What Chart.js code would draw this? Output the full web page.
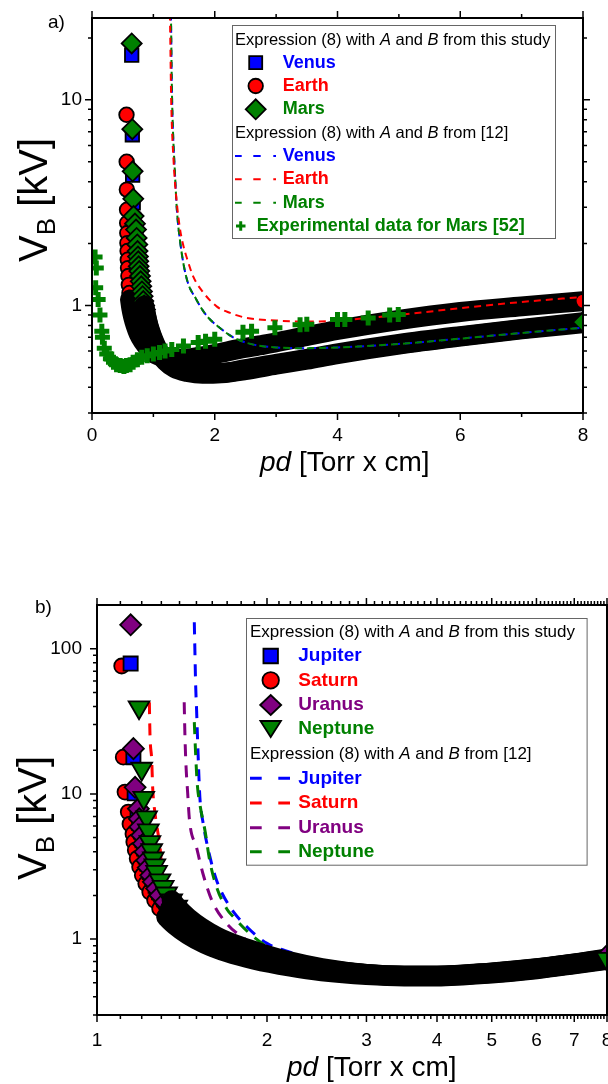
<!DOCTYPE html>
<html>
<head>
<meta charset="utf-8">
<script src="https://cdn.jsdelivr.net/npm/chart.js"></script>
<style>
  html, body { margin: 0; padding: 0; background: #fff; overflow: hidden; }
  .panel { position: absolute; left: 0; width: 608px; }
  #panelA { top: 0; height: 500px; }
  #panelB { top: 560px; height: 524px; }
</style>
</head>
<body>
<div class="panel" id="panelA"><canvas id="chartA" width="608" height="500"></canvas></div>
<div class="panel" id="panelB"><canvas id="chartB" width="608" height="524"></canvas></div>
<script>
// ---------- panel a) : Venus, Earth, Mars ----------
// markers, expression (8) with A and B from this study (sparse top part)
const venusMarkPd = [0.647, 0.657, 0.662, 0.672, 0.678, 0.70, 0.717, 0.727, 0.738];
const venusMarkV  = [16.5, 6.76, 4.3, 3.15, 2.62, 2.38, 2.22, 2.03, 1.89];
const earthMarkPd = [0.562, 0.565, 0.568, 0.571, 0.573, 0.575, 0.577, 0.58, 0.583, 0.587, 0.593, 0.6, 0.61, 0.62, 0.635];
const earthMarkV  = [8.46, 5.0, 3.66, 2.92, 2.52, 2.25, 2.01, 1.84, 1.67, 1.52, 1.39, 1.26, 1.15, 1.07, 0.99];
const marsMarkPd  = [0.647, 0.657, 0.662, 0.672, 0.678, 0.70, 0.717, 0.727, 0.738, 0.742, 0.749, 0.754, 0.76, 0.77, 0.782, 0.793, 0.803, 0.814, 0.825, 0.836, 0.85, 0.863];
const marsMarkV   = [18.8, 7.2, 4.49, 3.3, 2.72, 2.5, 2.34, 2.13, 1.98, 1.84, 1.73, 1.64, 1.55, 1.47, 1.39, 1.31, 1.24, 1.17, 1.11, 1.05, 1.0, 0.957];
// last marker of each series, at pd = 8
const venusEndPd = [8], venusEndV = [0.82];
const earthEndPd = [8], earthEndV = [1.05];
const marsEndPd  = [8], marsEndV  = [0.83];

// dense part of the same markers (solid black band)
const earthBandPd = [0.62, 0.64, 0.67, 0.71, 0.76, 0.83, 0.92, 1.03, 1.2, 1.4, 1.7, 2.0, 2.4, 2.8, 3.4, 4, 5, 6, 7, 8];
const earthBandV  = [1.07, 0.97, 0.88, 0.8, 0.73, 0.67, 0.62, 0.58, 0.56, 0.55, 0.56, 0.58, 0.615, 0.645, 0.7, 0.76, 0.85, 0.93, 0.99, 1.05];
const marsBandPd  = [0.85, 0.88, 0.92, 0.97, 1.03, 1.1, 1.2, 1.35, 1.55, 1.8, 2.1, 2.5, 3, 3.5, 4, 5, 6, 7, 8];
const marsBandV   = [1.0, 0.9, 0.8, 0.72, 0.65, 0.59, 0.54, 0.5, 0.48, 0.47, 0.47, 0.49, 0.52, 0.55, 0.585, 0.65, 0.71, 0.77, 0.83];
const venusBandPd = [0.85, 0.88, 0.92, 0.97, 1.03, 1.1, 1.2, 1.35, 1.55, 1.8, 2.1, 2.5, 3, 3.5, 4, 5, 6, 7, 8];
const venusBandV  = [0.99, 0.89, 0.79, 0.71, 0.64, 0.585, 0.535, 0.495, 0.475, 0.465, 0.468, 0.485, 0.515, 0.545, 0.58, 0.645, 0.705, 0.765, 0.82];

// expression (8) with A and B from [12]
const venusDashPd = [1.28, 1.287, 1.3, 1.32, 1.35, 1.38, 1.44, 1.54, 1.7, 1.87, 2.08, 2.3, 2.63, 3.0, 3.5, 4, 5, 6, 7, 8];
const venusDashV  = [30, 25, 12, 7, 4.5, 3.0, 2.0, 1.36, 1.07, 0.89, 0.78, 0.7, 0.645, 0.625, 0.62, 0.625, 0.65, 0.69, 0.735, 0.78];
const earthDashPd = [1.26, 1.27, 1.29, 1.33, 1.38, 1.43, 1.48, 1.56, 1.65, 1.8, 2.03, 2.25, 2.52, 3, 3.5, 4, 5, 6, 7, 8];
const earthDashV  = [30, 25, 10, 5, 3.2, 2.4, 2.0, 1.65, 1.38, 1.17, 0.99, 0.92, 0.87, 0.845, 0.835, 0.845, 0.9, 0.97, 1.04, 1.1];
const marsDashPd  = [1.28, 1.287, 1.3, 1.32, 1.35, 1.38, 1.44, 1.54, 1.7, 1.87, 2.08, 2.3, 2.63, 3.0, 3.5, 4, 5, 6, 7, 8];
const marsDashV   = [30, 25, 12, 7, 4.5, 3.0, 2.0, 1.36, 1.07, 0.89, 0.78, 0.7, 0.645, 0.625, 0.62, 0.625, 0.65, 0.69, 0.735, 0.78];

// experimental data for Mars [52]
const marsExpPd = [0.05, 0.07, 0.06, 0.1, 0.13, 0.16, 0.17, 0.2, 0.24, 0.3, 0.35, 0.4, 0.46, 0.52, 0.56, 0.62, 0.67, 0.74, 0.81, 0.9, 1.0, 1.1, 1.19, 1.3, 1.49, 1.73, 1.85, 2.0, 2.46, 2.6, 2.98, 3.39, 3.5, 4.0, 4.12, 4.5, 4.85, 4.99];
const marsExpV  = [1.72, 1.52, 1.22, 1.07, 0.9, 0.75, 0.7, 0.62, 0.58, 0.55, 0.53, 0.515, 0.51, 0.505, 0.51, 0.515, 0.53, 0.545, 0.56, 0.57, 0.58, 0.59, 0.6, 0.61, 0.635, 0.66, 0.67, 0.685, 0.74, 0.75, 0.78, 0.805, 0.81, 0.855, 0.855, 0.87, 0.9, 0.905];

const xLabelsA = [0, 2, 4, 6, 8];
const xMinorA  = [1, 3, 5, 7];
const yLabelsA = [1, 10];
const yMinorA  = [0.3, 0.4, 0.5, 0.6, 0.7, 0.8, 0.9, 2, 3, 4, 5, 6, 7, 8, 9, 20];

// ---------- panel b) : Jupiter, Saturn, Uranus, Neptune ----------
const jupMarkPd = [1.147, 1.16, 1.166, 1.18, 1.188, 1.196, 1.204, 1.212, 1.22, 1.228, 1.24, 1.253, 1.27, 1.288, 1.315];
const jupMarkV  = [79, 17.9, 10.1, 7.4, 6.3, 5.5, 4.8, 4.2, 3.7, 3.3, 2.9, 2.6, 2.33, 2.1, 1.88];
const satMarkPd = [1.106, 1.113, 1.121, 1.136, 1.144, 1.158, 1.162, 1.169, 1.178, 1.19, 1.203, 1.22, 1.24, 1.265, 1.291, 1.326, 1.373];
const satMarkV  = [76, 17.9, 10.3, 7.5, 6.2, 5.3, 4.67, 4.09, 3.59, 3.14, 2.75, 2.41, 2.11, 1.85, 1.62, 1.42, 1.25];
const uraMarkPd = [1.147, 1.16, 1.168, 1.184, 1.188, 1.191, 1.2, 1.208, 1.216, 1.224, 1.232, 1.245, 1.258, 1.275, 1.293, 1.32, 1.347, 1.374];
const uraMarkV  = [146, 20.5, 11.1, 7.9, 6.74, 5.92, 5.19, 4.54, 3.98, 3.49, 3.11, 2.75, 2.48, 2.23, 2.0, 1.8, 1.62, 1.46];
const nepMarkPd = [1.187, 1.2, 1.21, 1.224, 1.233, 1.241, 1.25, 1.258, 1.266, 1.275, 1.293, 1.31, 1.328, 1.356, 1.384];
const nepMarkV  = [39.5, 14.9, 9.4, 6.9, 5.6, 4.66, 4.09, 3.59, 3.22, 2.9, 2.54, 2.29, 2.06, 1.85, 1.67];
const uraEndPd = [8], uraEndV = [0.77];
const nepEndPd = [8], nepEndV = [0.73];

const jupBandPd = [1.288, 1.34, 1.41, 1.49, 1.59, 1.74, 1.94, 2.2, 2.5, 3, 3.5, 4, 5, 6, 7, 8];
const jupBandV  = [2.1, 1.68, 1.38, 1.17, 1.01, 0.88, 0.775, 0.68, 0.62, 0.572, 0.558, 0.558, 0.587, 0.627, 0.677, 0.728];
const satBandPd = [1.326, 1.373, 1.45, 1.55, 1.7, 1.9, 2.2, 2.5, 3, 3.5, 4, 5, 6, 7, 8];
const satBandV  = [1.42, 1.25, 1.07, 0.93, 0.81, 0.72, 0.645, 0.6, 0.565, 0.553, 0.553, 0.58, 0.62, 0.67, 0.72];
const uraBandPd = [1.347, 1.374, 1.42, 1.5, 1.6, 1.75, 1.95, 2.2, 2.5, 3, 3.5, 4, 5, 6, 7, 8];
const uraBandV  = [1.62, 1.46, 1.32, 1.15, 1.0, 0.87, 0.77, 0.68, 0.62, 0.575, 0.56, 0.56, 0.59, 0.63, 0.68, 0.735];
const nepBandPd = [1.356, 1.384, 1.45, 1.53, 1.63, 1.78, 1.97, 2.2, 2.5, 3, 3.5, 4, 5, 6, 7, 8];
const nepBandV  = [1.85, 1.67, 1.4, 1.2, 1.04, 0.9, 0.79, 0.7, 0.63, 0.575, 0.56, 0.56, 0.585, 0.625, 0.675, 0.725];

const jupDashPd = [1.487, 1.491, 1.495, 1.501, 1.507, 1.513, 1.521, 1.542, 1.585, 1.628, 1.719, 1.84, 2.0, 2.227, 2.515, 2.6];
const jupDashV  = [152, 92, 57, 37.5, 23.4, 15.3, 9.5, 6.24, 3.68, 2.54, 1.67, 1.22, 0.934, 0.798, 0.68, 0.66];
const satDashPd = [1.238, 1.241, 1.25, 1.255, 1.266, 1.284, 1.293, 1.3, 1.31, 1.33, 1.37, 1.45, 1.6, 1.8, 2.1, 2.5, 3];
const satDashV  = [42.8, 25.9, 17, 10.9, 7.5, 5.19, 4.3, 3.3, 2.6, 2.0, 1.55, 1.15, 0.9, 0.75, 0.66, 0.6, 0.565];
const uraDashPd = [1.427, 1.431, 1.437, 1.447, 1.458, 1.5, 1.54, 1.597, 1.697, 1.84, 2.02, 2.1, 2.3];
const uraDashV  = [42.8, 25.9, 16.1, 10.3, 6.6, 4.3, 2.83, 1.85, 1.28, 0.985, 0.8, 0.755, 0.68];
const nepDashPd = [1.487, 1.495, 1.505, 1.521, 1.553, 1.585, 1.628, 1.7, 1.745, 1.878, 2.08, 2.288, 2.45];
const nepDashV  = [31.2, 18.9, 11.7, 8.5, 5.6, 3.4, 2.29, 1.6, 1.42, 1.065, 0.81, 0.71, 0.66];

const xLabelsB = [1, 2, 3, 4, 5, 6, 7, 8];
const yLabelsB = [1, 10, 100];
const yMinorB  = [0.3, 0.4, 0.5, 0.6, 0.7, 0.8, 0.9, 2, 3, 4, 5, 6, 7, 8, 9, 20, 30, 40, 50, 60, 70, 80, 90];
const xMinorB = [];
for (let d = 1; d < 8; d++) for (let k = 1; k < 10; k++) xMinorB.push(d + k / 10);

// ---------- helpers ----------
const FONT = '"Liberation Sans", Arial, Helvetica, sans-serif';
const BLUE = '#0000ff', RED = '#ff0000', GREEN = '#008000', PURPLE = '#800080';
Chart.defaults.font.family = FONT;
Chart.defaults.color = '#000';

function pts(xs, ys) { return xs.map((x, i) => ({ x: x, y: ys[i] })); }

// lower "order" is drawn on top
function markers(xs, ys, style, fill, radius, order, rotation) {
  return {
    data: pts(xs, ys), showLine: false, pointStyle: style, pointRadius: radius,
    pointRotation: rotation || 0, pointBackgroundColor: fill, pointBorderColor: '#000',
    pointBorderWidth: 1.8, order: order, clip: 0
  };
}
function band(xs, ys, order) {
  return {
    data: pts(xs, ys), showLine: true, pointRadius: 0, borderColor: '#000', borderWidth: 20,
    borderCapStyle: 'round', borderJoinStyle: 'round', cubicInterpolationMode: 'monotone',
    order: order, clip: 0
  };
}
function dashed(xs, ys, color, width, dash, offset, order) {
  return {
    data: pts(xs, ys), showLine: true, pointRadius: 0, borderColor: color, borderWidth: width,
    borderDash: dash, borderDashOffset: offset, cubicInterpolationMode: 'monotone',
    order: order, clip: 0
  };
}

function drawFrame(chart, xMajor, xMinor, yMajor, yMinor) {
  const { ctx, chartArea: a, scales } = chart;
  const sx = scales.x, sy = scales.y;
  ctx.save();
  ctx.strokeStyle = '#000';
  ctx.lineWidth = 1.5;
  ctx.beginPath();
  const xt = (v, len) => {
    const p = sx.getPixelForValue(v);
    ctx.moveTo(p, a.bottom); ctx.lineTo(p, a.bottom + len);
    ctx.moveTo(p, a.top); ctx.lineTo(p, a.top - len);
  };
  const yt = (v, len) => {
    const p = sy.getPixelForValue(v);
    ctx.moveTo(a.left, p); ctx.lineTo(a.left - len, p);
    ctx.moveTo(a.right, p); ctx.lineTo(a.right + len, p);
  };
  xMajor.forEach(v => xt(v, 7));
  xMinor.forEach(v => xt(v, 4));
  yMajor.forEach(v => yt(v, 7));
  yMinor.forEach(v => yt(v, 4));
  ctx.stroke();
  ctx.lineWidth = 2;
  ctx.strokeRect(a.left, a.top, a.right - a.left, a.bottom - a.top);
  ctx.restore();
}

function richText(ctx, x, y, parts) {
  ctx.save();
  ctx.textBaseline = 'middle';
  ctx.textAlign = 'left';
  for (const [t, f, c] of parts) {
    ctx.font = f;
    ctx.fillStyle = c || '#000';
    ctx.fillText(t, x, y);
    x += ctx.measureText(t).width;
  }
  ctx.restore();
  return x;
}

function legendMarker(ctx, shape, x, y, w, h, fill) {
  ctx.save();
  ctx.fillStyle = fill; ctx.strokeStyle = '#000'; ctx.lineWidth = 1.8;
  ctx.beginPath();
  if (shape === 'square') ctx.rect(x - w / 2, y - h / 2, w, h);
  else if (shape === 'circle') ctx.arc(x, y, w / 2, 0, Math.PI * 2);
  else if (shape === 'diamond') {
    ctx.moveTo(x - w / 2, y); ctx.lineTo(x, y - h / 2); ctx.lineTo(x + w / 2, y); ctx.lineTo(x, y + h / 2); ctx.closePath();
  } else if (shape === 'tri') {
    ctx.moveTo(x - w / 2, y - h / 2); ctx.lineTo(x + w / 2, y - h / 2); ctx.lineTo(x, y + h / 2); ctx.closePath();
  }
  ctx.fill(); ctx.stroke();
  ctx.restore();
}

function legendDash(ctx, segs, y, color, width) {
  ctx.save();
  ctx.strokeStyle = color; ctx.lineWidth = width;
  ctx.beginPath();
  segs.forEach(([x1, x2]) => { ctx.moveTo(x1, y); ctx.lineTo(x2, y); });
  ctx.stroke();
  ctx.restore();
}

function heading(ctx, x, y, size, tail) {
  const n = size + 'px ' + FONT, it = 'italic ' + size + 'px ' + FONT;
  richText(ctx, x, y, [['Expression (8) with ', n], ['A', it], [' and ', n], ['B', it], [tail, n]]);
}

function xTitle(ctx, x, y, size) {
  ctx.save();
  ctx.textBaseline = 'alphabetic';
  ctx.fillStyle = '#000';
  ctx.font = 'italic ' + size + 'px ' + FONT;
  ctx.fillText('pd', x, y);
  const w = ctx.measureText('pd').width;
  ctx.font = size + 'px ' + FONT;
  ctx.fillText(' [Torr x cm]', x + w, y);
  ctx.restore();
}

function yTitle(ctx, x, y, size) {
  ctx.save();
  ctx.translate(x, y);
  ctx.rotate(-Math.PI / 2);
  ctx.textBaseline = 'alphabetic';
  ctx.fillStyle = '#000';
  ctx.font = size + 'px ' + FONT;
  ctx.fillText('V', 0, 0);
  let w = ctx.measureText('V').width;
  ctx.font = Math.round(size * 0.65) + 'px ' + FONT;
  ctx.fillText('B', w, size * 0.2);
  w += ctx.measureText('B').width;
  ctx.font = size + 'px ' + FONT;
  ctx.fillText(' [kV]', w, 0);
  ctx.restore();
}

function panelLabel(ctx, text, x, y) {
  ctx.save();
  ctx.font = '19px ' + FONT;
  ctx.fillStyle = '#000';
  ctx.textBaseline = 'alphabetic';
  ctx.fillText(text, x, y);
  ctx.restore();
}

// ---------- chart a) ----------
const overlayA = {
  id: 'overlayA',
  afterDraw(chart) {
    const ctx = chart.ctx;
    drawFrame(chart, xLabelsA, xMinorA, yLabelsA, yMinorA);
    // legend
    ctx.save();
    ctx.fillStyle = '#fff';
    ctx.fillRect(232, 25, 323, 213);
    ctx.strokeStyle = '#666'; ctx.lineWidth = 1;
    ctx.strokeRect(232.5, 25.5, 323, 213);
    ctx.restore();
    const bold = 'bold 18px ' + FONT;
    heading(ctx, 235, 40, 16.5, ' from this study');
    legendMarker(ctx, 'square', 255.7, 62.7, 13, 13, BLUE);
    richText(ctx, 282.7, 62.7, [['Venus', bold, BLUE]]);
    legendMarker(ctx, 'circle', 255.7, 86, 14.5, 14.5, RED);
    richText(ctx, 282.7, 86, [['Earth', bold, RED]]);
    legendMarker(ctx, 'diamond', 255.7, 109.3, 20, 20, GREEN);
    richText(ctx, 282.7, 109.3, [['Mars', bold, GREEN]]);
    heading(ctx, 235, 133.3, 16.5, ' from [12]');
    const segA = [[235, 241.7], [253.3, 260.7], [273.3, 276]];
    legendDash(ctx, segA, 156, BLUE, 2);
    richText(ctx, 282.7, 156, [['Venus', bold, BLUE]]);
    legendDash(ctx, segA, 179.3, RED, 2);
    richText(ctx, 282.7, 179.3, [['Earth', bold, RED]]);
    legendDash(ctx, segA, 202.7, GREEN, 2);
    richText(ctx, 282.7, 202.7, [['Mars', bold, GREEN]]);
    ctx.save();
    ctx.strokeStyle = GREEN; ctx.lineWidth = 3;
    ctx.beginPath();
    ctx.moveTo(236, 226); ctx.lineTo(245.5, 226);
    ctx.moveTo(240.7, 221.3); ctx.lineTo(240.7, 230.7);
    ctx.stroke();
    ctx.restore();
    richText(ctx, 256.7, 226, [['Experimental data for Mars [52]', bold, GREEN]]);
    // titles
    xTitle(ctx, 260, 471, 28);
    yTitle(ctx, 47, 262, 40);
    panelLabel(ctx, 'a)', 48, 28);
  }
};

new Chart(document.getElementById('chartA'), {
  type: 'scatter',
  data: {
    datasets: [
      Object.assign(markers(marsExpPd, marsExpV, 'cross', GREEN, 7.5, 0), { pointBorderColor: GREEN, pointBorderWidth: 5 }),
      dashed(earthDashPd, earthDashV, RED, 2, [7, 5], 0, 1),
      dashed(marsDashPd, marsDashV, GREEN, 2, [7, 5], 2, 2),
      dashed(venusDashPd, venusDashV, BLUE, 2, [7, 5], 0, 3),
      markers(marsEndPd, marsEndV, 'rectRot', GREEN, 10, 4),
      markers(earthEndPd, earthEndV, 'circle', RED, 7.3, 5),
      markers(venusEndPd, venusEndV, 'rect', BLUE, 9.5, 6),
      band(marsBandPd, marsBandV, 7),
      markers(marsMarkPd, marsMarkV, 'rectRot', GREEN, 10, 8),
      band(earthBandPd, earthBandV, 9),
      markers(earthMarkPd, earthMarkV, 'circle', RED, 7.3, 10),
      band(venusBandPd, venusBandV, 11),
      markers(venusMarkPd, venusMarkV, 'rect', BLUE, 9.5, 12)
    ]
  },
  options: {
    responsive: false,
    animation: false,
    events: [],
    layout: { autoPadding: false, padding: { top: 18, right: 25, left: 0, bottom: 0 } },
    plugins: { legend: { display: false }, tooltip: { enabled: false } },
    scales: {
      x: {
        type: 'linear', min: 0, max: 8,
        ticks: { stepSize: 2, font: { size: 19 }, color: '#000', padding: 11, maxRotation: 0, autoSkip: false },
        grid: { display: false, drawTicks: false },
        border: { display: false },
        afterFit(s) { s.height = 87; s.paddingLeft = 0; s.paddingRight = 0; }
      },
      y: {
        type: 'logarithmic', min: 0.3, max: 25,
        afterBuildTicks(s) { s.ticks = yLabelsA.map(v => ({ value: v })); },
        ticks: { font: { size: 19 }, color: '#000', padding: 10, callback: v => String(v) },
        grid: { display: false, drawTicks: false },
        border: { display: false },
        afterFit(s) { s.width = 92; s.paddingTop = 0; s.paddingBottom = 0; }
      }
    }
  },
  plugins: [overlayA]
});

// ---------- chart b) ----------
const overlayB = {
  id: 'overlayB',
  afterDraw(chart) {
    const ctx = chart.ctx;
    drawFrame(chart, xLabelsB, xMinorB, yLabelsB, yMinorB);
    const off = 560;
    ctx.save();
    ctx.fillStyle = '#fff';
    ctx.fillRect(246.7, 618.3 - off, 340.6, 246.7);
    ctx.strokeStyle = '#666'; ctx.lineWidth = 1;
    ctx.strokeRect(246.5, 618.5 - off, 340.6, 246.7);
    ctx.restore();
    const bold = 'bold 19px ' + FONT;
    const nx = 298.3, mx = 270.7;
    heading(ctx, 250, 632.3 - off, 17, ' from this study');
    legendMarker(ctx, 'square', mx, 656 - off, 14.5, 14.5, BLUE);
    richText(ctx, nx, 656 - off, [['Jupiter', bold, BLUE]]);
    legendMarker(ctx, 'circle', mx, 680.3 - off, 16.5, 16.5, RED);
    richText(ctx, nx, 680.3 - off, [['Saturn', bold, RED]]);
    legendMarker(ctx, 'diamond', mx, 705 - off, 21, 20, PURPLE);
    richText(ctx, nx, 705 - off, [['Uranus', bold, PURPLE]]);
    legendMarker(ctx, 'tri', mx, 729 - off, 20.5, 16, GREEN);
    richText(ctx, nx, 729 - off, [['Neptune', bold, GREEN]]);
    heading(ctx, 250, 754 - off, 17, ' from [12]');
    const segB = [[250, 261.7], [278.3, 290]];
    legendDash(ctx, segB, 778.3 - off, BLUE, 3);
    richText(ctx, nx, 778.3 - off, [['Jupiter', bold, BLUE]]);
    legendDash(ctx, segB, 803 - off, RED, 3);
    richText(ctx, nx, 803 - off, [['Saturn', bold, RED]]);
    legendDash(ctx, segB, 827.7 - off, PURPLE, 3);
    richText(ctx, nx, 827.7 - off, [['Uranus', bold, PURPLE]]);
    legendDash(ctx, segB, 851.7 - off, GREEN, 3);
    richText(ctx, nx, 851.7 - off, [['Neptune', bold, GREEN]]);
    xTitle(ctx, 287, 1076 - off, 28);
    yTitle(ctx, 46, 880 - off, 40);
    panelLabel(ctx, 'b)', 35, 613 - off);
  }
};

new Chart(document.getElementById('chartB'), {
  type: 'scatter',
  data: {
    datasets: [
      markers(nepEndPd, nepEndV, 'triangle', GREEN, 12, 0, 180),
      markers(uraEndPd, uraEndV, 'rectRot', PURPLE, 10.5, 1),
      band(nepBandPd, nepBandV, 2),
      markers(nepMarkPd, nepMarkV, 'triangle', GREEN, 12, 3, 180),
      band(uraBandPd, uraBandV, 4),
      markers(uraMarkPd, uraMarkV, 'rectRot', PURPLE, 10.5, 5),
      band(jupBandPd, jupBandV, 6),
      markers(jupMarkPd, jupMarkV, 'rect', BLUE, 10, 7),
      band(satBandPd, satBandV, 8),
      markers(satMarkPd, satMarkV, 'circle', RED, 7.5, 9),
      dashed(satDashPd, satDashV, RED, 3, [12, 9], 0, 10),
      dashed(uraDashPd, uraDashV, PURPLE, 3, [12, 9], 0, 11),
      dashed(nepDashPd, nepDashV, GREEN, 3, [12, 9], 0, 12),
      dashed(jupDashPd, jupDashV, BLUE, 3, [12, 9], 0, 13)
    ]
  },
  options: {
    responsive: false,
    animation: false,
    events: [],
    layout: { autoPadding: false, padding: { top: 45, right: 1, left: 0, bottom: 0 } },
    plugins: { legend: { display: false }, tooltip: { enabled: false } },
    scales: {
      x: {
        type: 'logarithmic', min: 1, max: 8,
        afterBuildTicks(s) { s.ticks = xLabelsB.map(v => ({ value: v })); },
        ticks: { font: { size: 19 }, color: '#000', padding: 14, maxRotation: 0, autoSkip: false, callback: v => String(v) },
        grid: { display: false, drawTicks: false },
        border: { display: false },
        afterFit(s) { s.height = 69; s.paddingLeft = 0; s.paddingRight = 0; }
      },
      y: {
        type: 'logarithmic', min: 0.3, max: 200,
        afterBuildTicks(s) { s.ticks = yLabelsB.map(v => ({ value: v })); },
        ticks: { font: { size: 19 }, color: '#000', padding: 15, callback: v => String(v) },
        grid: { display: false, drawTicks: false },
        border: { display: false },
        afterFit(s) { s.width = 97; s.paddingTop = 0; s.paddingBottom = 0; }
      }
    }
  },
  plugins: [overlayB]
});
</script>
</body>
</html>
